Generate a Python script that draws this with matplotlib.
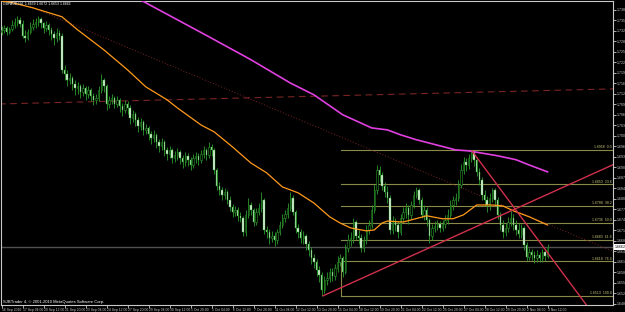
import numpy as np
import matplotlib.pyplot as plt

# H4 candles, one entry per bar (prices)
opens = [1.7318, 1.7324, 1.7330, 1.7318, 1.7327, 1.7339, 1.7348, 1.7355, 1.7342, 1.7306,
         1.7300, 1.7318, 1.7333, 1.7342, 1.7348, 1.7358, 1.7345, 1.7330, 1.7339, 1.7324,
         1.7312, 1.7300, 1.7315, 1.7306, 1.7202, 1.7190, 1.7172, 1.7178, 1.7159, 1.7147,
         1.7153, 1.7135, 1.7147, 1.7129, 1.7141, 1.7123, 1.7111, 1.7117, 1.7141, 1.7172,
         1.7153, 1.7098, 1.7111, 1.7117, 1.7098, 1.7111, 1.7092, 1.7080, 1.7098, 1.7086,
         1.7056, 1.7068, 1.7050, 1.7031, 1.7043, 1.7019, 1.7025, 1.7007, 1.6995, 1.7004,
         1.6982, 1.6970, 1.6982, 1.6958, 1.6946, 1.6958, 1.6934, 1.6943, 1.6952, 1.6934,
         1.6921, 1.6940, 1.6928, 1.6912, 1.6934, 1.6940, 1.6928, 1.6946, 1.6958, 1.6943,
         1.6967, 1.6958, 1.6897, 1.6848, 1.6836, 1.6821, 1.6830, 1.6806, 1.6784, 1.6769,
         1.6775, 1.6757, 1.6751, 1.6708, 1.6760, 1.6790, 1.6775, 1.6738, 1.6769, 1.6781,
         1.6806, 1.6714, 1.6708, 1.6690, 1.6696, 1.6684, 1.6708, 1.6729, 1.6751, 1.6763,
         1.6781, 1.6812, 1.6769, 1.6720, 1.6708, 1.6690, 1.6696, 1.6671, 1.6653, 1.6629,
         1.6616, 1.6592, 1.6577, 1.6531, 1.6562, 1.6568, 1.6586, 1.6574, 1.6598, 1.6616,
         1.6629, 1.6586, 1.6659, 1.6684, 1.6690, 1.6738, 1.6696, 1.6690, 1.6659, 1.6684,
         1.6714, 1.6729, 1.6775, 1.6836, 1.6897, 1.6882, 1.6848, 1.6830, 1.6812, 1.6714,
         1.6738, 1.6729, 1.6708, 1.6751, 1.6769, 1.6781, 1.6760, 1.6790, 1.6821, 1.6836,
         1.6806, 1.6760, 1.6775, 1.6745, 1.6696, 1.6720, 1.6726, 1.6732, 1.6720, 1.6732,
         1.6745, 1.6760, 1.6790, 1.6806, 1.6812, 1.6851, 1.6897, 1.6921, 1.6912, 1.6934,
         1.6952, 1.6928, 1.6891, 1.6867, 1.6821, 1.6806, 1.6790, 1.6812, 1.6836, 1.6806,
         1.6760, 1.6729, 1.6708, 1.6720, 1.6738, 1.6751, 1.6729, 1.6714, 1.6702, 1.6720,
         1.6668, 1.6632, 1.6647, 1.6638, 1.6629, 1.6638, 1.6629, 1.6647, 1.6635]
highs = [1.7336, 1.7339, 1.7336, 1.7333, 1.7355, 1.7361, 1.7367, 1.7364, 1.7355, 1.7324,
         1.7327, 1.7348, 1.7358, 1.7361, 1.7367, 1.7364, 1.7348, 1.7351, 1.7345, 1.7333,
         1.7321, 1.7330, 1.7324, 1.7315, 1.7217, 1.7202, 1.7193, 1.7184, 1.7172, 1.7165,
         1.7159, 1.7159, 1.7153, 1.7153, 1.7147, 1.7132, 1.7129, 1.7153, 1.7190, 1.7178,
         1.7159, 1.7123, 1.7129, 1.7123, 1.7123, 1.7117, 1.7101, 1.7111, 1.7107, 1.7095,
         1.7080, 1.7074, 1.7059, 1.7056, 1.7050, 1.7037, 1.7031, 1.7016, 1.7019, 1.7010,
         1.6992, 1.6995, 1.6989, 1.6967, 1.6970, 1.6964, 1.6955, 1.6964, 1.6958, 1.6943,
         1.6952, 1.6949, 1.6937, 1.6946, 1.6952, 1.6949, 1.6958, 1.6970, 1.6964, 1.6982,
         1.6976, 1.6964, 1.6903, 1.6860, 1.6845, 1.6842, 1.6836, 1.6818, 1.6793, 1.6787,
         1.6784, 1.6769, 1.6757, 1.6775, 1.6812, 1.6799, 1.6781, 1.6781, 1.6796, 1.6830,
         1.6812, 1.6726, 1.6717, 1.6711, 1.6708, 1.6717, 1.6742, 1.6763, 1.6775, 1.6796,
         1.6830, 1.6821, 1.6775, 1.6732, 1.6717, 1.6711, 1.6702, 1.6681, 1.6662, 1.6641,
         1.6626, 1.6604, 1.6586, 1.6574, 1.6586, 1.6598, 1.6598, 1.6610, 1.6635, 1.6641,
         1.6635, 1.6671, 1.6702, 1.6708, 1.6751, 1.6745, 1.6714, 1.6702, 1.6696, 1.6729,
         1.6745, 1.6790, 1.6854, 1.6912, 1.6909, 1.6891, 1.6860, 1.6848, 1.6821, 1.6757,
         1.6751, 1.6742, 1.6763, 1.6784, 1.6796, 1.6790, 1.6802, 1.6833, 1.6845, 1.6842,
         1.6815, 1.6790, 1.6784, 1.6751, 1.6732, 1.6742, 1.6745, 1.6742, 1.6745, 1.6760,
         1.6778, 1.6806, 1.6818, 1.6827, 1.6867, 1.6915, 1.6937, 1.6934, 1.6946, 1.6958,
         1.6955, 1.6937, 1.6903, 1.6876, 1.6836, 1.6818, 1.6827, 1.6842, 1.6842, 1.6815,
         1.6769, 1.6745, 1.6735, 1.6754, 1.6775, 1.6763, 1.6745, 1.6735, 1.6732, 1.6726,
         1.6677, 1.6659, 1.6656, 1.6650, 1.6653, 1.6647, 1.6656, 1.6656, 1.6671]
lows = [1.7309, 1.7315, 1.7309, 1.7312, 1.7321, 1.7330, 1.7336, 1.7333, 1.7300, 1.7287,
        1.7294, 1.7312, 1.7324, 1.7330, 1.7336, 1.7330, 1.7315, 1.7321, 1.7309, 1.7294,
        1.7278, 1.7287, 1.7294, 1.7193, 1.7172, 1.7153, 1.7159, 1.7141, 1.7126, 1.7129,
        1.7117, 1.7123, 1.7111, 1.7117, 1.7107, 1.7095, 1.7098, 1.7107, 1.7132, 1.7135,
        1.7080, 1.7086, 1.7098, 1.7086, 1.7089, 1.7074, 1.7062, 1.7071, 1.7068, 1.7037,
        1.7043, 1.7031, 1.7013, 1.7019, 1.7004, 1.7007, 1.6989, 1.6976, 1.6982, 1.6964,
        1.6952, 1.6958, 1.6940, 1.6928, 1.6934, 1.6918, 1.6921, 1.6928, 1.6915, 1.6903,
        1.6909, 1.6909, 1.6897, 1.6903, 1.6918, 1.6912, 1.6918, 1.6934, 1.6928, 1.6934,
        1.6940, 1.6885, 1.6836, 1.6821, 1.6806, 1.6809, 1.6793, 1.6772, 1.6754, 1.6757,
        1.6742, 1.6738, 1.6696, 1.6696, 1.6751, 1.6760, 1.6726, 1.6729, 1.6760, 1.6769,
        1.6702, 1.6690, 1.6671, 1.6677, 1.6665, 1.6671, 1.6699, 1.6720, 1.6738, 1.6751,
        1.6772, 1.6760, 1.6705, 1.6690, 1.6674, 1.6671, 1.6653, 1.6635, 1.6610, 1.6598,
        1.6574, 1.6556, 1.6513, 1.6522, 1.6546, 1.6556, 1.6559, 1.6562, 1.6586, 1.6604,
        1.6571, 1.6580, 1.6647, 1.6665, 1.6674, 1.6684, 1.6671, 1.6647, 1.6647, 1.6671,
        1.6702, 1.6720, 1.6766, 1.6824, 1.6860, 1.6836, 1.6815, 1.6796, 1.6702, 1.6702,
        1.6711, 1.6690, 1.6699, 1.6738, 1.6751, 1.6732, 1.6748, 1.6781, 1.6812, 1.6793,
        1.6751, 1.6745, 1.6726, 1.6674, 1.6684, 1.6708, 1.6714, 1.6708, 1.6711, 1.6720,
        1.6732, 1.6751, 1.6775, 1.6790, 1.6802, 1.6842, 1.6885, 1.6894, 1.6900, 1.6921,
        1.6909, 1.6879, 1.6851, 1.6806, 1.6787, 1.6769, 1.6775, 1.6799, 1.6790, 1.6748,
        1.6714, 1.6690, 1.6696, 1.6708, 1.6726, 1.6714, 1.6699, 1.6690, 1.6690, 1.6653,
        1.6620, 1.6623, 1.6623, 1.6613, 1.6616, 1.6616, 1.6616, 1.6620, 1.6629]
closes = [1.7324, 1.7330, 1.7318, 1.7327, 1.7339, 1.7348, 1.7355, 1.7342, 1.7306, 1.7300,
          1.7318, 1.7333, 1.7342, 1.7348, 1.7358, 1.7345, 1.7330, 1.7339, 1.7324, 1.7312,
          1.7300, 1.7315, 1.7306, 1.7202, 1.7190, 1.7172, 1.7178, 1.7159, 1.7147, 1.7153,
          1.7135, 1.7147, 1.7129, 1.7141, 1.7123, 1.7111, 1.7117, 1.7141, 1.7172, 1.7153,
          1.7098, 1.7111, 1.7117, 1.7098, 1.7111, 1.7092, 1.7080, 1.7098, 1.7086, 1.7056,
          1.7068, 1.7050, 1.7031, 1.7043, 1.7019, 1.7025, 1.7007, 1.6995, 1.7004, 1.6982,
          1.6970, 1.6982, 1.6958, 1.6946, 1.6958, 1.6934, 1.6943, 1.6952, 1.6934, 1.6921,
          1.6940, 1.6928, 1.6912, 1.6934, 1.6940, 1.6928, 1.6946, 1.6958, 1.6943, 1.6967,
          1.6958, 1.6897, 1.6848, 1.6836, 1.6821, 1.6830, 1.6806, 1.6784, 1.6769, 1.6775,
          1.6757, 1.6751, 1.6708, 1.6760, 1.6790, 1.6775, 1.6738, 1.6769, 1.6781, 1.6806,
          1.6714, 1.6708, 1.6690, 1.6696, 1.6684, 1.6708, 1.6729, 1.6751, 1.6763, 1.6781,
          1.6812, 1.6769, 1.6720, 1.6708, 1.6690, 1.6696, 1.6671, 1.6653, 1.6629, 1.6616,
          1.6592, 1.6577, 1.6531, 1.6562, 1.6568, 1.6586, 1.6574, 1.6598, 1.6616, 1.6629,
          1.6586, 1.6659, 1.6684, 1.6690, 1.6738, 1.6696, 1.6690, 1.6659, 1.6684, 1.6714,
          1.6729, 1.6775, 1.6836, 1.6897, 1.6882, 1.6848, 1.6830, 1.6812, 1.6714, 1.6738,
          1.6729, 1.6708, 1.6751, 1.6769, 1.6781, 1.6760, 1.6790, 1.6821, 1.6836, 1.6806,
          1.6760, 1.6775, 1.6745, 1.6696, 1.6720, 1.6726, 1.6732, 1.6720, 1.6732, 1.6745,
          1.6760, 1.6790, 1.6806, 1.6812, 1.6851, 1.6897, 1.6921, 1.6912, 1.6934, 1.6952,
          1.6928, 1.6891, 1.6867, 1.6821, 1.6806, 1.6790, 1.6812, 1.6836, 1.6806, 1.6760,
          1.6729, 1.6708, 1.6720, 1.6738, 1.6751, 1.6729, 1.6714, 1.6702, 1.6720, 1.6668,
          1.6632, 1.6647, 1.6638, 1.6629, 1.6638, 1.6629, 1.6647, 1.6635, 1.6662]

# indicator lines (bar index, price)
orange_bar = [0, 3, 12, 23, 29, 39, 48, 55, 63, 67, 76, 81, 88, 95, 101, 107, 113, 119, 125, 129,
              133, 139, 142, 145, 147, 153, 162, 168, 172, 176, 181, 187, 191, 195, 201, 208]
orange_val = [1.7412, 1.7409, 1.7391, 1.7364, 1.7324, 1.7263, 1.7202, 1.7150, 1.7111, 1.7086,
              1.7034, 1.7013, 1.6967, 1.6918, 1.6888, 1.6845, 1.6827, 1.6796, 1.6754, 1.6735,
              1.6720, 1.6711, 1.6714, 1.6735, 1.6741, 1.6738, 1.6757, 1.6748, 1.6748, 1.6760,
              1.6790, 1.6790, 1.6787, 1.6772, 1.6754, 1.6729]
magenta_bar = [53, 79, 95, 110, 119, 130, 141, 147, 152, 158, 173, 178, 189, 196, 201, 208]
magenta_val = [1.7415, 1.7303, 1.7233, 1.7162, 1.7126, 1.7065, 1.7025, 1.7019, 1.7004, 1.6989,
               1.6958, 1.6955, 1.6940, 1.6928, 1.6912, 1.6891]

# drawn objects
dotted_line = ([10.9, 233.0], [1.7395, 1.6648])
dashed_line = ([-1.0, 233.0], [1.7098, 1.7144])
up_trend = ([122.5, 233.0], [1.6513, 1.6913])
down_trend = ([179.2, 240.0], [1.6955, 1.6300])
fib_start = 129.3
fib_high = 1.6958
fib_low = 1.6513
fib_levels = [0.0, 23.6, 38.2, 50.0, 61.8, 76.4, 100.0]
bid = 1.6662

time_labels = ["16 Sep 2010", "17 Sep 04:00", "20 Sep 12:00", "21 Sep 20:00", "23 Sep 04:00",
               "24 Sep 12:00", "27 Sep 20:00", "29 Sep 04:00", "30 Sep 12:00", "1 Oct 20:00",
               "5 Oct 04:00", "6 Oct 12:00", "7 Oct 20:00", "11 Oct 04:00", "12 Oct 12:00",
               "13 Oct 20:00", "15 Oct 04:00", "18 Oct 12:00", "19 Oct 20:00", "21 Oct 04:00",
               "22 Oct 12:00", "25 Oct 20:00", "27 Oct 04:00", "28 Oct 12:00", "29 Oct 20:00",
               "2 Nov 04:00", "3 Nov 12:00"]
title = "GBPAUD,H4  1.6659 1.6672 1.6653 1.6666"
copyright_txt = "SJBTrader 4, \u00a9 2001-2010 MetaQuotes Software Corp."

small = ['Liberation Sans Narrow', 'Liberation Sans', 'DejaVu Sans']
fg = '#c8c8c8'
fig = plt.figure(figsize=(6.25, 3.12), dpi=100, facecolor='black')
ax = fig.add_axes([1/625, 7/312, 612/625, 304/312], facecolor='black')
ax.set_xlim(-0.2, -0.2 + 612/2.625)
ax.set_ylim(1.6485, 1.7412)

ax.plot(dashed_line[0], dashed_line[1], color='#7a2424', lw=0.8, ls=(0, (6, 4)))
ax.plot(dotted_line[0], dotted_line[1], color='#7a2424', lw=0.7, ls=(0, (1, 2)))

# candles
o = np.array(opens); h = np.array(highs); l = np.array(lows); c = np.array(closes)
x = np.arange(len(c))
ax.vlines(x, l, h, color='#2a9a2a', lw=0.6, zorder=2)
bear = c < o
ax.bar(x[bear], (o - c)[bear], bottom=c[bear], width=0.55, color='#e4f6e4',
       edgecolor='#2a9a2a', lw=0.3, zorder=3)
ax.bar(x[~bear], (c - o)[~bear], bottom=o[~bear], width=0.55, color='black',
       edgecolor='#2a9a2a', lw=0.4, zorder=3)

ax.plot(magenta_bar, magenta_val, color='#e040e0', lw=1.2, zorder=4)
ax.plot(orange_bar, orange_val, color='#ff9a1a', lw=0.9, zorder=4)

fib_color = '#8a8a48'
for lv in fib_levels:
    p = fib_high - (fib_high - fib_low) * lv / 100
    ax.plot([fib_start, 300], [p, p], color=fib_color, lw=0.8, zorder=1)
    ax.text(232.5, p + 0.0002, f"{p:.4f}  {lv:.1f}", color='#c8c878', fontsize=2.5,
            family=small, ha='right', va='bottom')
ax.plot([fib_start, fib_start], [fib_low, fib_high - (fib_high - fib_low) * 0.764],
        color=fib_color, lw=0.8)

ax.axhline(bid, color='#505050', lw=1.0, zorder=1)
ax.plot(up_trend[0], up_trend[1], color='#d0304c', lw=1.0, zorder=5)
ax.plot(down_trend[0], down_trend[1], color='#d0304c', lw=1.0, zorder=5)

ax.text(0.003, 0.997, title, transform=ax.transAxes, color='white', fontsize=2.5,
        family=small, ha='left', va='top', zorder=6)
ax.text(0.003, 0.004, copyright_txt, transform=ax.transAxes, color='white', fontsize=3.0,
        family=small, ha='left', va='bottom', zorder=6)

for s in ax.spines.values():
    s.set_color(fg)
    s.set_linewidth(0.8)
ax.yaxis.tick_right()
yt = [1.7385 - 0.0032 * k for k in range(29)]
ax.set_yticks(yt)
ax.set_yticklabels([f"{v:.4f}" for v in yt], family=small)
ax.set_xticks([8 * k for k in range(len(time_labels))])
ax.set_xticklabels(time_labels, ha='left', family=small)
ax.tick_params(axis='y', colors=fg, labelsize=2.6, length=2, width=0.6, pad=1)
ax.tick_params(axis='x', colors=fg, labelsize=2.4, length=2, width=0.6, pad=0.5)

ax.text(1.003, bid, f"{bid:.4f}", transform=ax.get_yaxis_transform(), color='black',
        fontsize=2.6, family=small, ha='left', va='center',
        bbox=dict(boxstyle='square,pad=0.2', fc='white', ec='none'))

fig.savefig('out.png', dpi=100, facecolor='black')
